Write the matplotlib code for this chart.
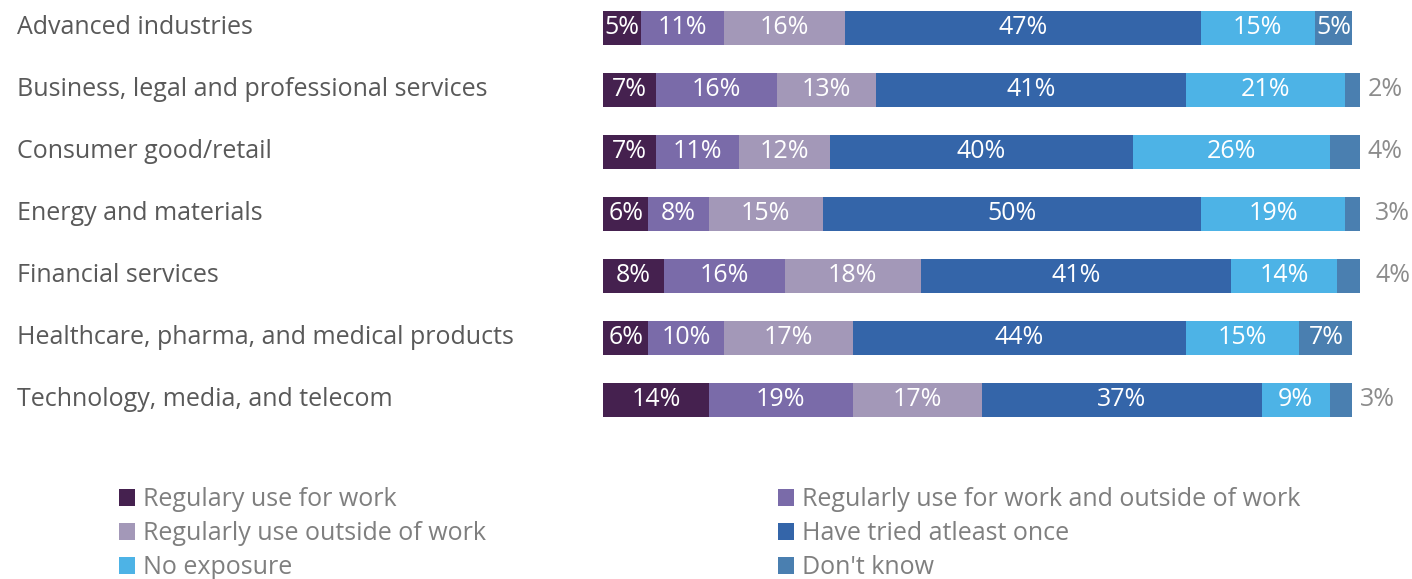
import numpy as np
import matplotlib.pyplot as plt
from matplotlib import transforms

plt.rcParams['font.family'] = ['Open Sans', 'DejaVu Sans']

industries = [
    'Advanced industries',
    'Business, legal and professional services',
    'Consumer good/retail',
    'Energy and materials',
    'Financial services',
    'Healthcare, pharma, and medical products',
    'Technology, media, and telecom',
]
series_names = [
    'Regulary use for work',
    'Regularly use for work and outside of work',
    'Regularly use outside of work',
    'Have tried atleast once',
    'No exposure',
    "Don't know",
]
work_only = [5, 7, 7, 6, 8, 6, 14]
work_and_outside = [11, 16, 11, 8, 16, 10, 19]
outside_only = [16, 13, 12, 15, 18, 17, 17]
tried_once = [47, 41, 40, 50, 41, 44, 37]
no_exposure = [15, 21, 26, 19, 14, 15, 9]
dont_know = [5, 2, 4, 3, 4, 7, 3]

colors = ['#45214f', '#7a6ba9', '#a398b8', '#3465a9', '#4db3e6', '#4a7fb0']
series = [work_only, work_and_outside, outside_only, tried_once, no_exposure, dont_know]

W, H = 1412, 579
fs = 18
fig = plt.figure(figsize=(W / 100, H / 100), dpi=100)
ax = fig.add_axes([603 / W, 148 / H, 757 / W, 431 / H])

y = np.arange(len(industries))
left = np.zeros(len(industries))
bars = []
for i, (vals, col) in enumerate(zip(series, colors)):
    vals = np.array(vals)
    b = ax.barh(y, vals, left=left, height=0.55, color=col, label=series_names[i])
    bars.append(b)
    for j, v in enumerate(vals):
        if i == len(series) - 1 and v < 5:
            # small last segment: label outside the bar
            ax.text(left[j] + v + 1.0, y[j], f'{v}%', ha='left', va='center',
                    fontsize=fs, color='#8c8c8c', clip_on=False)
        else:
            ax.text(left[j] + v / 2, y[j], f'{v}%', ha='center', va='center',
                    fontsize=fs, color='white')
    left = left + vals

ax.set_xlim(0, 100)
ax.set_ylim(6.5, -0.45)
ax.axis('off')

# category labels at the left edge of the figure
trans = transforms.blended_transform_factory(fig.transFigure, ax.transData)
for j, name in enumerate(industries):
    ax.text(17 / W, y[j], name, transform=trans, ha='left', va='center',
            fontsize=fs, color='#595959')

legend_kw = dict(frameon=False, fontsize=fs, labelcolor='#7f7f7f',
                 handlelength=0.65, handleheight=0.65, handletextpad=0.3,
                 labelspacing=0.36, borderpad=0, borderaxespad=0)
fig.legend([bars[0], bars[2], bars[4]],
           [series_names[0], series_names[2], series_names[4]],
           loc='upper left', bbox_to_anchor=(119 / W, 1 - 487 / H), **legend_kw)
fig.legend([bars[1], bars[3], bars[5]],
           [series_names[1], series_names[3], series_names[5]],
           loc='upper left', bbox_to_anchor=(778 / W, 1 - 487 / H), **legend_kw)

fig.savefig('out.png', dpi=100)
